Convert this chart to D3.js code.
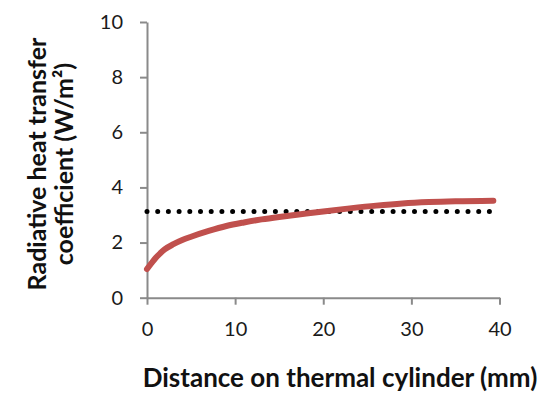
<!DOCTYPE html>
<html>
<head>
<meta charset="utf-8">
<script src="https://cdn.jsdelivr.net/npm/d3@7"></script>
<style>
  html, body { margin: 0; padding: 0; background: #fff; }
  svg { display: block; font-family: Lato, "Open Sans", sans-serif; }
</style>
</head>
<body>
<svg id="chart" width="545" height="393"></svg>
<script>
// ---- data ----
const xTicks = [0, 10, 20, 30, 40];
const yTicks = [0, 2, 4, 6, 8, 10];
const curveX = [0, 0.5, 1, 1.5, 2, 3, 4, 5, 7, 9, 11, 13, 15, 17, 20, 23, 26, 29, 32, 35, 39.3];
const curveY = [1.04, 1.25, 1.45, 1.61, 1.75, 1.94, 2.09, 2.21, 2.42, 2.60, 2.73, 2.84, 2.93, 3.01, 3.13, 3.24, 3.34, 3.42, 3.47, 3.50, 3.52];
const refX = [0, 39];
const refY = [3.13, 3.13];
const xLabel = "Distance on thermal cylinder (mm)";
const yLabel1 = "Radiative heat transfer";
const yLabel2 = "coefficient (W/m²)";

// ---- chart ----
const svg = d3.select("#chart");
const x = d3.scaleLinear().domain([0, 40]).range([147, 499.5]);
const y = d3.scaleLinear().domain([0, 10]).range([297.7, 22]);
const axisColor = "#8a8a8a";

const gx = svg.append("g").attr("transform", `translate(0,${y(0)})`)
  .call(d3.axisBottom(x).tickValues(xTicks).tickSize(7).tickPadding(17).tickSizeOuter(0));
const gy = svg.append("g").attr("transform", `translate(${x(0)},0)`)
  .call(d3.axisLeft(y).tickValues(yTicks).tickSize(7).tickPadding(17).tickSizeOuter(0));

[gx, gy].forEach(g => {
  g.select(".domain").attr("stroke", axisColor).attr("stroke-width", 2);
  g.selectAll(".tick line").attr("stroke", axisColor).attr("stroke-width", 2);
  g.selectAll(".tick text").attr("fill", "#1a1a1a").attr("font-size", 20)
    .attr("font-family", "Lato, 'Open Sans', sans-serif");
});

// dotted reference line
const refData = refX.map((d, i) => [d, refY[i]]);
svg.append("path")
  .datum(refData)
  .attr("d", d3.line().x(d => x(d[0])).y(d => y(d[1])))
  .attr("fill", "none")
  .attr("stroke", "#000")
  .attr("stroke-width", 5)
  .attr("stroke-linecap", "round")
  .attr("stroke-dasharray", "0 10.7");

// red curve
const curveData = curveX.map((d, i) => [d, curveY[i]]);
svg.append("path")
  .datum(curveData)
  .attr("d", d3.line().x(d => x(d[0])).y(d => y(d[1])).curve(d3.curveMonotoneX))
  .attr("fill", "none")
  .attr("stroke", "#c0504d")
  .attr("stroke-width", 6)
  .attr("stroke-linecap", "round");

// axis titles
svg.append("text")
  .attr("x", 340).attr("y", 387)
  .attr("text-anchor", "middle")
  .attr("font-weight", "bold")
  .attr("font-size", 26)
  .attr("fill", "#111")
  .text(xLabel);

const yt = svg.append("text")
  .attr("transform", "translate(46,164) rotate(-90)")
  .attr("text-anchor", "middle")
  .attr("font-weight", "bold")
  .attr("font-size", 25)
  .attr("fill", "#111");
yt.append("tspan").attr("x", 0).attr("dy", 0).text(yLabel1);
yt.append("tspan").attr("x", 0).attr("dy", 27).text(yLabel2);
</script>
</body>
</html>
